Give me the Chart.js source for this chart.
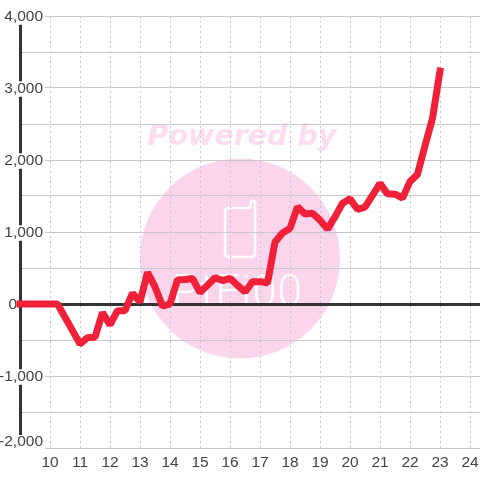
<!DOCTYPE html>
<html><head><meta charset="utf-8">
<style>html,body{margin:0;padding:0;background:#fff}canvas{display:block}</style>
<script src="https://cdn.jsdelivr.net/npm/chart.js@4"></script>
</head><body><canvas id="c" width="480" height="480"></canvas>
<script>
const hours = [9,9.25,9.5,9.75,10,10.25,10.5,10.75,11,11.25,11.5,11.75,12,12.25,12.5,12.75,13,13.25,13.5,13.75,14,14.25,14.5,14.75,15,15.25,15.5,15.75,16,16.25,16.5,16.75,17,17.25,17.5,17.75,18,18.25,18.5,18.75,19,19.25,19.5,19.75,20,20.25,20.5,20.75,21,21.25,21.5,21.75,22,22.25,22.5,22.75,23];
const values = [0,0,0,0,0,0,-185,-370,-555,-467,-463,-120,-290,-93,-93,150,30,440,240,-30,0,335,340,355,160,260,365,325,355,260,167,310,310,290,860,985,1050,1350,1250,1260,1165,1040,1210,1400,1460,1315,1345,1510,1675,1530,1525,1470,1700,1800,2200,2580,3235];
const yLabelled = [-1000,0,1000,2000,3000,4000];
const yBottom = -2000;
const FONT = "'Liberation Sans', Arial, sans-serif";

const watermark = {
  id:'watermark',
  beforeDraw(chart){
    const c = chart.ctx;
    c.save();
    c.fillStyle = '#fff'; c.fillRect(0,0,480,480);
    c.fillStyle = '#fbd5ec';
    c.beginPath(); c.arc(240,258.5,100,0,Math.PI*2); c.fill();
    c.fillStyle = '#fddcf0';
    c.font = "italic bold 28.5px 'DejaVu Sans'";
    c.textAlign='center'; c.textBaseline='alphabetic';
    c.fillText('Powered by',242,145);
    c.strokeStyle='#fff'; c.lineWidth=2.5; c.lineJoin='round';
    c.beginPath();
    c.moveTo(250,208); c.lineTo(229,208); c.quadraticCurveTo(225,208,225,212);
    c.lineTo(225,253); c.quadraticCurveTo(225,257,229,257);
    c.lineTo(251,257); c.quadraticCurveTo(255,257,255,253);
    c.lineTo(255,203); c.quadraticCurveTo(255,200.5,253,200.5);
    c.quadraticCurveTo(251,200.5,251,203); c.lineTo(250,208);
    c.stroke();
    c.fillStyle='#fff';
    c.font = "300 44px Roboto";
    c.textAlign='left';
    c.letterSpacing='1px';
    c.fillText('PtFi00',172,306);
    c.restore();
  }
};

const bottomLabel = {
  id:'bottomLabel',
  afterDraw(chart){
    const c = chart.ctx, y = chart.scales.y.getPixelForValue(yBottom);
    c.save();
    c.fillStyle='#fff'; c.fillRect(0,y-13,45,14);
    c.fillStyle='#444'; c.font="15.5px "+FONT;
    c.textAlign='right'; c.textBaseline='middle';
    c.fillText(yBottom.toLocaleString('en-US'),43,y-6);
    c.restore();
  }
};

new Chart(document.getElementById('c'),{
  type:'line',
  data:{datasets:[{
    data:hours.map((h,i)=>({x:h,y:values[i]})),
    borderColor:'#ef2037', borderWidth:7, pointRadius:0, tension:0,
    borderCapStyle:'square', borderJoinStyle:'bevel', clip:false, fill:false
  }]},
  options:{
    responsive:false, animation:false,
    layout:{padding:{top:16,left:0,right:0,bottom:0}},
    plugins:{legend:{display:false},tooltip:{enabled:false},title:{display:false}},
    scales:{
      x:{
        type:'linear', min:9, max:24.3333,
        afterFit(s){s.height=32;s.paddingLeft=0;s.paddingRight=0;},
        border:{display:false,dash:[2,3]},
        grid:{color:'#c8c8c8',lineWidth:1,drawTicks:false},
        ticks:{
          stepSize:1, includeBounds:false, autoSkip:false, maxRotation:0, padding:5,
          color:'#444', font:{family:FONT,size:15.5},
          callback:v=>v===9?'':String(v)
        }
      },
      y:{
        min:yBottom, max:4000,
        afterFit(s){s.width=20;s.paddingTop=0;s.paddingBottom=0;},
        border:{display:true,color:'#333',width:3},
        grid:{
          color:c=>c.tick&&c.tick.value===0?'#333':'#c8c8c8',
          lineWidth:c=>c.tick&&c.tick.value===0?3:1,
          drawTicks:false
        },
        ticks:{
          stepSize:500, autoSkip:false, mirror:true, crossAlign:'far', padding:-20.9, labelOffset:1, color:'#444',
          font:{family:FONT,size:15.5,lineHeight:1},
          showLabelBackdrop:c=>yLabelled.includes(c.tick.value)&&c.tick.value!==0,
          backdropColor:'#fff',
          backdropPadding:{top:0,bottom:0,left:0,right:2},
          callback:v=>{
            if(!yLabelled.includes(v)) return '';
            if(v===0) return '0\u00a0\u00a0\u00a0\u00a0\u00a0\u00a0';
            return v.toLocaleString('en-US');
          }
        }
      }
    }
  },
  plugins:[watermark,bottomLabel]
});
</script></body></html>
